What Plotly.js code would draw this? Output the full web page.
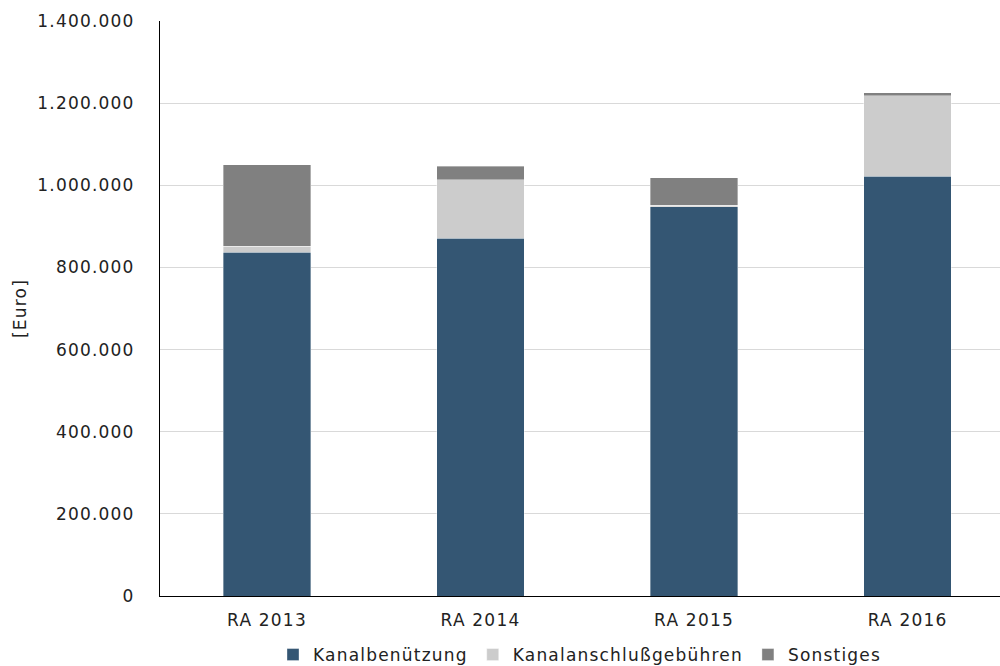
<!DOCTYPE html>
<html>
<head>
<meta charset="utf-8">
<script src="https://cdn.plot.ly/plotly-3.0.1.min.js"></script>
<style>
html,body{margin:0;padding:0;background:#fff;}
#chart{width:1000px;height:666px;}
text{letter-spacing:1.2px;}
</style>
</head>
<body>
<div id="chart"></div>
<script>
const categories = ["RA 2013", "RA 2014", "RA 2015", "RA 2016"];
const kanalbenuetzung = [837000, 871000, 948000, 1022000];
const kanalanschluss = [14000, 143000, 3000, 196000];
const sonstiges = [199000, 32000, 67000, 7000];
const seriesNames = ["Kanalbenützung", "Kanalanschlußgebühren", "Sonstiges"];
const yTicks = [0, 200000, 400000, 600000, 800000, 1000000, 1200000, 1400000];

const colors = ["#345673", "#cccccc", "#808080"];
const vals = [kanalbenuetzung, kanalanschluss, sonstiges];
const traces = vals.map((v, i) => ({
  type: "bar",
  x: categories,
  y: v,
  name: seriesNames[i],
  width: 0.41,
  marker: {color: colors[i], line: {color: "rgba(255,255,255,0.6)", width: 0.6}},
  hoverinfo: "skip"
}));

const layout = {
  width: 1000, height: 666,
  barmode: "stack",
  separators: ",.",
  paper_bgcolor: "#fff", plot_bgcolor: "#fff",
  margin: {l: 160, r: 0, t: 21, b: 70, pad: 0, autoexpand: false},
  font: {family: "DejaVu Sans, Verdana, sans-serif", color: "#222", size: 17},
  xaxis: {
    range: [-0.501, 3.433],
    showline: true, linecolor: "#000", linewidth: 1,
    ticks: "outside", ticklen: 9, tickcolor: "rgba(0,0,0,0)",
    tickfont: {size: 17},
    showgrid: false
  },
  yaxis: {
    range: [0, 1400000],
    tickvals: yTicks,
    tickformat: ",d",
    showline: true, linecolor: "#000", linewidth: 1,
    gridcolor: "#d9d9d9", gridwidth: 1,
    ticks: "outside", ticklen: 21, tickcolor: "rgba(0,0,0,0)",
    tickfont: {size: 17},
    zeroline: false,
    title: {text: "[Euro]", font: {size: 17}, standoff: 6}
  },
  legend: {
    orientation: "h", x: 0.5, xanchor: "center", xref: "paper",
    y: -0.1026, yanchor: "middle",
    font: {size: 17}, itemwidth: 30,
    traceorder: "normal"
  },
  showlegend: true
};

Plotly.newPlot("chart", traces, layout, {displayModeBar: false, staticPlot: true});
</script>
</body>
</html>
